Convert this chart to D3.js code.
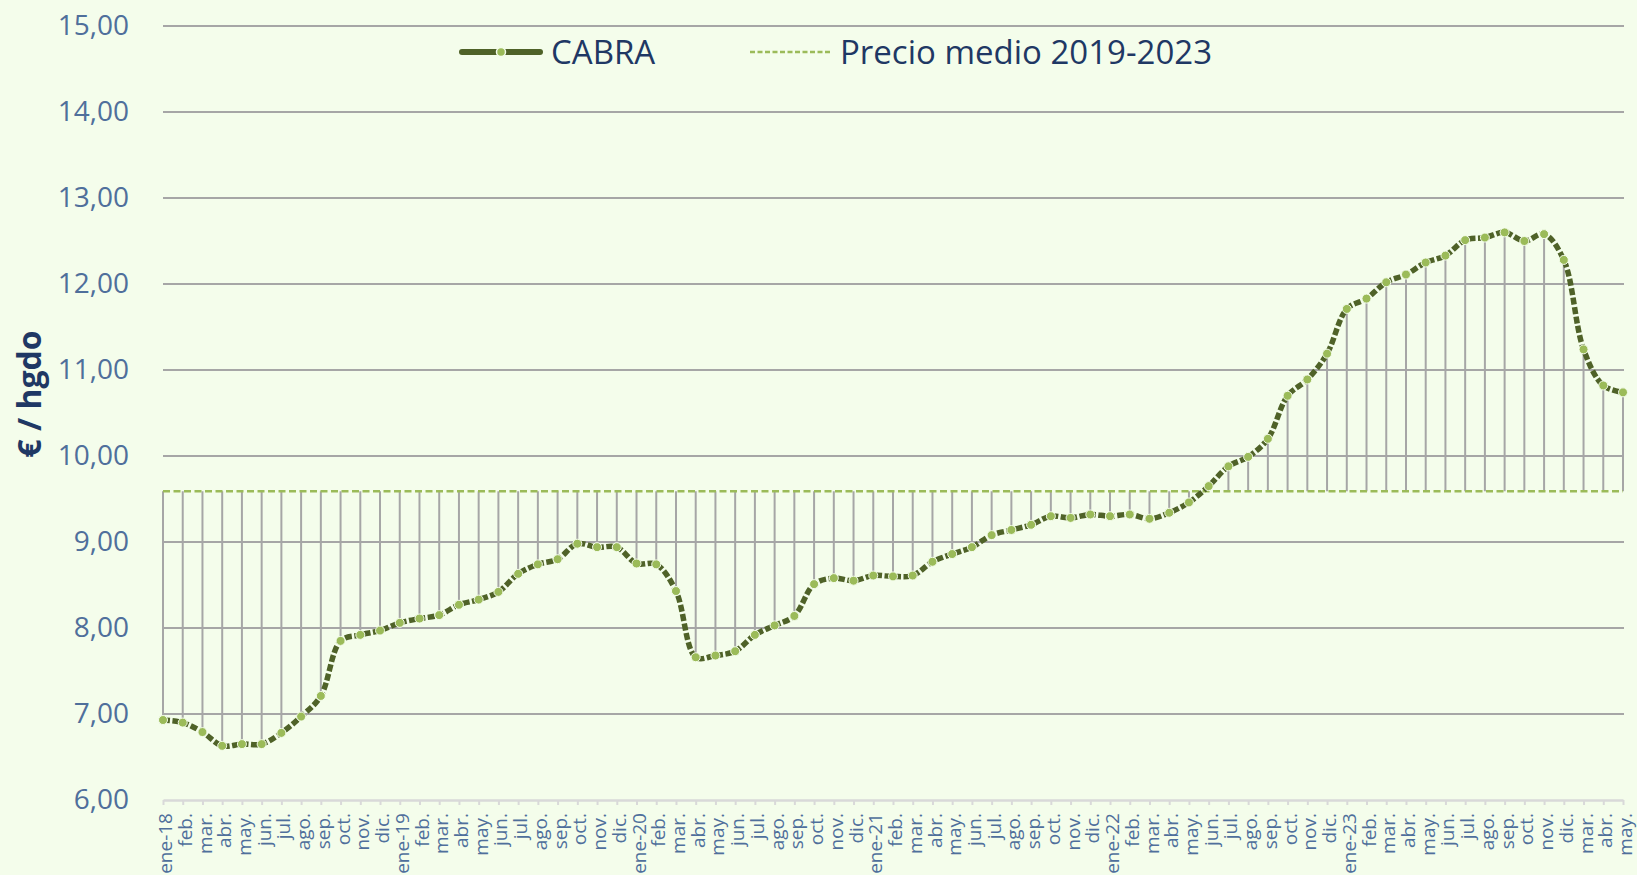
<!DOCTYPE html>
<html>
<head>
<meta charset="utf-8">
<script src="https://cdn.jsdelivr.net/npm/d3@7"></script>
<style>
	body { margin: 0; background: #f4fdeb; }
	svg { display: block; }
</style>
</head>
<body>
<script>
	// tick labels of the category axis
	const months = [
		"ene-18", "feb.", "mar.", "abr.", "may.", "jun.", "jul.", "ago.", "sep.", "oct.", "nov.", "dic.",
		"ene-19", "feb.", "mar.", "abr.", "may.", "jun.", "jul.", "ago.", "sep.", "oct.", "nov.", "dic.",
		"ene-20", "feb.", "mar.", "abr.", "may.", "jun.", "jul.", "ago.", "sep.", "oct.", "nov.", "dic.",
		"ene-21", "feb.", "mar.", "abr.", "may.", "jun.", "jul.", "ago.", "sep.", "oct.", "nov.", "dic.",
		"ene-22", "feb.", "mar.", "abr.", "may.", "jun.", "jul.", "ago.", "sep.", "oct.", "nov.", "dic.",
		"ene-23", "feb.", "mar.", "abr.", "may.", "jun.", "jul.", "ago.", "sep.", "oct.", "nov.", "dic.",
		"mar.", "abr.", "may."
	];

	// CABRA, €/hgdo
	const cabra = [
		6.93, 6.90, 6.79, 6.63, 6.65, 6.65, 6.78, 6.97, 7.21, 7.85, 7.92, 7.97,
		8.06, 8.11, 8.15, 8.27, 8.33, 8.42, 8.63, 8.74, 8.80, 8.98, 8.94, 8.94,
		8.75, 8.74, 8.43, 7.66, 7.68, 7.73, 7.92, 8.03, 8.14, 8.51, 8.58, 8.55,
		8.61, 8.60, 8.61, 8.77, 8.86, 8.94, 9.08, 9.14, 9.20, 9.30, 9.28, 9.32,
		9.30, 9.32, 9.27, 9.34, 9.46, 9.65, 9.88, 9.99, 10.20, 10.70, 10.89, 11.19,
		11.71, 11.83, 12.02, 12.11, 12.25, 12.33, 12.51, 12.54, 12.60, 12.50, 12.58, 12.28,
		11.24, 10.82, 10.74
	];

	// Precio medio 2019-2023
	const precioMedio = months.map(() => 9.59);

	const yTicks = [6, 7, 8, 9, 10, 11, 12, 13, 14, 15];
	const seriesNames = ["CABRA", "Precio medio 2019-2023"];

	const w = 1637,
		h = 875;

	const plotLeft = 163,
		plotRight = 1623,
		plotTop = 26,
		plotBottom = 800;

	const colors = {
		bg: "#f4fdeb",
		line: "#4f6228",
		marker: "#9bbb59",
		grid: "#a6a6a6",
		axis: "#d9d9d9",
		tick: "#4f6f9b",
		title: "#1f3864"
	};

	const font = "'Open Sans', sans-serif";

	const fmt = d3.formatLocale({
		decimal: ",",
		thousands: ".",
		grouping: [3],
		currency: ["", " €"]
	}).format(".2f");

	const xScale = d3
			.scalePoint()
			.domain(d3.range(months.length))
			.range([plotLeft, plotRight]),

		yScale = d3
			.scaleLinear()
			.domain([6, 15])
			.range([plotBottom, plotTop]),

		svg = d3
			.select("body")
			.append("svg")
			.attr("width", w)
			.attr("height", h)
			.style("font-family", font);

	svg.append("rect")
		.attr("width", w)
		.attr("height", h)
		.attr("fill", colors.bg);

	// horizontal gridlines
	svg.append("g")
		.selectAll("line")
		.data(yTicks.filter(d => d > 6))
		.enter()
		.append("line")
		.attr("x1", plotLeft)
		.attr("x2", plotRight + 1)
		.attr("y1", d => yScale(d))
		.attr("y2", d => yScale(d))
		.attr("stroke", colors.grid)
		.attr("stroke-width", 2);

	// y axis
	const yAxis = svg.append("g")
		.attr("transform", `translate(${plotLeft},0)`)
		.call(d3.axisLeft(yScale).tickValues(yTicks).tickFormat(fmt).tickSize(0).tickPadding(34))
		.attr("font-size", 28)
		.attr("font-family", font);

	yAxis.select(".domain").remove();
	yAxis.selectAll("text").attr("fill", colors.tick);

	// x axis
	const xAxis = svg.append("g")
		.attr("transform", `translate(0,${plotBottom})`)
		.call(d3.axisBottom(xScale).tickFormat(i => months[i]).tickSize(5).tickSizeOuter(0))
		.attr("font-size", 19)
		.attr("font-family", font);

	xAxis.select(".domain").attr("stroke", colors.axis).attr("stroke-width", 2.5);
	xAxis.selectAll(".tick line").attr("stroke", colors.axis).attr("stroke-width", 2);
	xAxis.selectAll("text")
		.attr("transform", "rotate(-90)")
		.attr("x", -13)
		.attr("y", 0)
		.attr("dy", "0.45em")
		.attr("text-anchor", "end")
		.attr("fill", colors.tick);

	// high-low lines between the series and the average
	svg.append("g")
		.selectAll("line")
		.data(cabra)
		.enter()
		.append("line")
		.attr("x1", (d, i) => xScale(i))
		.attr("x2", (d, i) => xScale(i))
		.attr("y1", (d, i) => yScale(precioMedio[i]))
		.attr("y2", d => yScale(d))
		.attr("stroke", colors.grid)
		.attr("stroke-width", 2);

	// average line
	svg.append("path")
		.datum(precioMedio)
		.attr("d", d3.line().x((d, i) => xScale(i)).y(d => yScale(d)))
		.attr("fill", "none")
		.attr("stroke", colors.marker)
		.attr("stroke-width", 2.5)
		.attr("stroke-dasharray", "7,3.5");

	// CABRA line
	svg.append("path")
		.datum(cabra)
		.attr("d", d3.line().x((d, i) => xScale(i)).y(d => yScale(d)).curve(d3.curveCatmullRom.alpha(0.5)))
		.attr("fill", "none")
		.attr("stroke", colors.line)
		.attr("stroke-width", 5.5)
		.attr("stroke-dasharray", "7,2.5");

	svg.append("g")
		.selectAll("circle")
		.data(cabra)
		.enter()
		.append("circle")
		.attr("cx", (d, i) => xScale(i))
		.attr("cy", d => yScale(d))
		.attr("r", 4.5)
		.attr("fill", colors.marker)
		.attr("stroke", colors.bg)
		.attr("stroke-width", 1);

	// legend
	const legend = svg.append("g").attr("font-size", 33).attr("fill", colors.title);

	legend.append("line")
		.attr("x1", 462).attr("x2", 540)
		.attr("y1", 52).attr("y2", 52)
		.attr("stroke", colors.line)
		.attr("stroke-width", 6)
		.attr("stroke-linecap", "round");
	legend.append("circle")
		.attr("cx", 501).attr("cy", 52).attr("r", 4.5)
		.attr("fill", colors.marker)
		.attr("stroke", colors.bg)
		.attr("stroke-width", 1.5);
	legend.append("text")
		.attr("x", 551).attr("y", 52).attr("dy", "0.36em")
		.text(seriesNames[0]);

	legend.append("line")
		.attr("x1", 750).attr("x2", 832)
		.attr("y1", 52).attr("y2", 52)
		.attr("stroke", colors.marker)
		.attr("stroke-width", 2.5)
		.attr("stroke-dasharray", "5,2.5");
	legend.append("text")
		.attr("x", 840).attr("y", 52).attr("dy", "0.36em")
		.text(seriesNames[1]);

	// y axis title
	svg.append("text")
		.attr("transform", "translate(41,394) rotate(-90)")
		.attr("text-anchor", "middle")
		.attr("font-size", 32)
		.attr("font-weight", "bold")
		.attr("fill", colors.title)
		.text("€ / hgdo");
</script>
</body>
</html>
